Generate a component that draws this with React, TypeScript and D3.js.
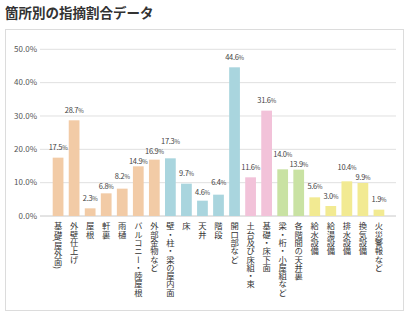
import React from "react";
import * as d3 from "d3";

const categories = [
  "基礎(屋外面)", "外壁仕上げ", "屋根", "軒裏", "雨樋", "バルコニー・陸屋根", "外部金物など",
  "壁・柱・梁の屋内面", "床", "天井", "階段", "開口部など",
  "土台及び床組・束", "基礎・床下面",
  "梁・桁・小屋組など", "各階間の天井裏",
  "給水設備", "給湯設備", "排水設備", "換気設備", "火災警報など",
];
const values = [17.5, 28.7, 2.3, 6.8, 8.2, 14.9, 16.9, 17.3, 9.7, 4.6, 6.4, 44.6, 11.6, 31.6, 14.0, 13.9, 5.6, 3.0, 10.4, 9.9, 1.9];
const groups = [0, 0, 0, 0, 0, 0, 0, 1, 1, 1, 1, 1, 2, 2, 3, 3, 4, 4, 4, 4, 4];
const groupColors = ["#F2CBA6", "#A9D5DE", "#F2C2D9", "#C9E2A3", "#F2EA92"];
const yTicks = [0, 10, 20, 30, 40, 50];
const title = "箇所別の指摘割合データ";

const FONT = "'Noto Sans CJK JP', 'Noto Sans', sans-serif";

export default function App() {
  const W = 416, H = 321;
  const y = d3.scaleLinear().domain([0, 50]).range([216, 49.3]);
  const x = d3.scaleBand<number>().domain(d3.range(categories.length)).range([47.4, 389.6]).padding(0.33);
  const gridX0 = 40, gridX1 = 396;

  // simple label collision relaxation between neighbouring labels:
  // the label of the taller bar is pushed up, the other one down
  const labelY = values.map((v) => y(v) - 10);
  const minSep = 10;
  for (let it = 0; it < 80; it++) {
    for (let i = 0; i < labelY.length - 1; i++) {
      const d = Math.abs(labelY[i + 1] - labelY[i]);
      if (d < minSep - 0.01) {
        const upper = values[i + 1] >= values[i] ? i + 1 : i;
        const lower = upper === i ? i + 1 : i;
        const mid = (labelY[upper] + labelY[lower]) / 2;
        labelY[upper] = mid - minSep / 2;
        labelY[lower] = mid + minSep / 2;
      }
    }
  }

  return (
    <svg width={W} height={H} style={{ position: "absolute", left: 0, top: 0 }} fontFamily={FONT}>
      <rect x={0} y={0} width={W} height={H} fill="#fff" />
      <text x={5} y={18} fontSize={13.5} fontWeight="bold" fill="#333">{title}</text>
      <rect x={5.5} y={29.5} width={398} height={281} fill="#fff" stroke="#dcdcdc" />
      {yTicks.map((t) => (
        <g key={t}>
          <line x1={gridX0} x2={gridX1} y1={y(t)} y2={y(t)} stroke={t === 0 ? "#c8c8c8" : "#e0e0e0"} strokeWidth={1} />
          <text x={37} y={y(t)} dy="0.35em" textAnchor="end" fontSize={8} fill="#555">{t.toFixed(1)}%</text>
        </g>
      ))}
      {values.map((v, i) => {
        const bx = x(i)!;
        const cx = bx + x.bandwidth() / 2;
        return (
          <g key={i}>
            <rect x={bx} y={y(v)} width={x.bandwidth()} height={y(0) - y(v)} fill={groupColors[groups[i]]} />
            <text x={cx} y={labelY[i]} dy="0.35em" textAnchor="middle" fontSize={7.5} fill="#444" letterSpacing={-0.3}>
              {v.toFixed(1)}<tspan fontSize={6}>%</tspan>
            </text>
            <text x={cx} y={222} fontSize={8.3} fill="#333" style={{ writingMode: "vertical-rl" }}>{categories[i]}</text>
          </g>
        );
      })}
    </svg>
  );
}
